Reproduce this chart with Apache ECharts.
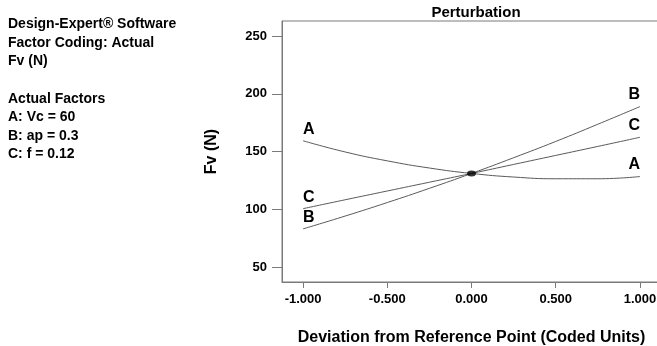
<!DOCTYPE html>
<html>
<head>
<meta charset="utf-8">
<script src="https://cdn.jsdelivr.net/npm/echarts@6/dist/echarts.min.js"></script>
<style>
  html, body { margin: 0; padding: 0; background: #fff; }
  #main { width: 657px; height: 346px; }
</style>
</head>
<body>
<div id="main"></div>
<script>
// deviation from reference point (coded units)
const devPts = [-1, -0.75, -0.5, -0.25, 0, 0.25, 0.5, 0.75, 1]
// Fv (N)
const fvA = [159.3, 149.6, 141.9, 135.7, 131.0, 127.9, 126.4, 126.4, 128.3]
const fvB = [83.0, 94.1, 105.8, 118.1, 131.0, 144.6, 158.7, 173.6, 188.9]
const fvC = [100.5, 108.2, 115.8, 123.4, 131.0, 138.8, 146.6, 154.4, 162.3]
const refPoint = [0, 131.0]

const xTicks = [-1, -0.5, 0, 0.5, 1]
const yTicks = [50, 100, 150, 200, 250]

const infoLines = [
  'Design-Expert® Software',
  'Factor Coding: Actual',
  'Fv (N)',
  '',
  'Actual Factors',
  'A: Vc = 60',
  'B: ap = 0.3',
  'C: f = 0.12'
]

const font = 'Arial, "Liberation Sans", sans-serif'
const lineCol = '#5a5a5a'
const axisCol = '#7a7a7a'

// build [x, y] points, name tag on both ends
let buildSeries = (name, vals) => {
  return vals.map((v, i) => {
    let item = { value: [devPts[i], v] }
    if (i === 0 || i === vals.length - 1) {
      item.label = {
        show: true,
        formatter: name,
        position: 'top',
        align: i === 0 ? 'left' : 'right',
        distance: 3,
        color: '#000',
        fontFamily: font,
        fontSize: 16,
        fontWeight: 'bold'
      }
    }
    return item
  })
}

let lineSeries = (name, vals) => ({
  name: name,
  type: 'line',
  smooth: true,
  symbol: 'circle',
  symbolSize: 1,
  showSymbol: true,
  itemStyle: { color: 'rgba(0,0,0,0)' },
  lineStyle: { color: lineCol, width: 1 },
  data: buildSeries(name, vals)
})

let chartInstance = echarts.init(document.getElementById('main'), null, { renderer: 'canvas' })

const option = {
  animation: false,
  backgroundColor: '#fff',
  title: {
    text: 'Perturbation',
    left: 471,
    top: 0,
    textAlign: 'center',
    textStyle: { fontFamily: font, fontSize: 15, fontWeight: 'bold', color: '#000' }
  },
  graphic: [{
    type: 'text',
    left: 8,
    top: 15,
    style: {
      text: infoLines.join('\n'),
      font: 'bold 14px ' + font,
      lineHeight: 18.6,
      fill: '#000'
    }
  }],
  grid: {
    left: 282,
    top: 21,
    width: 379,
    height: 261,
    outerBoundsMode: 'none',
    show: true,
    borderColor: axisCol,
    borderWidth: 1
  },
  xAxis: {
    type: 'value',
    min: -1.125,
    max: 1.125,
    name: 'Deviation from Reference Point (Coded Units)',
    nameLocation: 'middle',
    nameGap: 48,
    nameTextStyle: { fontFamily: font, fontSize: 16, fontWeight: 'bold', color: '#000' },
    splitLine: { show: false },
    axisLine: { show: true, onZero: false, lineStyle: { color: axisCol, width: 1 } },
    axisTick: { show: true, length: 6, customValues: xTicks, lineStyle: { color: axisCol } },
    axisLabel: {
      customValues: xTicks,
      margin: 11,
      fontFamily: font,
      fontSize: 13,
      fontWeight: 'bold',
      color: '#000',
      formatter: v => v.toFixed(3)
    }
  },
  yAxis: {
    type: 'value',
    min: 37,
    max: 263,
    name: 'Fv (N)',
    nameLocation: 'middle',
    nameGap: 62,
    nameTextStyle: { fontFamily: font, fontSize: 16, fontWeight: 'bold', color: '#000' },
    splitLine: { show: false },
    axisLine: { show: true, onZero: false, lineStyle: { color: axisCol, width: 1 } },
    axisTick: { show: true, length: 10, customValues: yTicks, lineStyle: { color: axisCol } },
    axisLabel: {
      customValues: yTicks,
      margin: 15,
      fontFamily: font,
      fontSize: 13,
      fontWeight: 'bold',
      color: '#000'
    }
  },
  series: [
    lineSeries('A', fvA),
    lineSeries('B', fvB),
    lineSeries('C', fvC),
    {
      name: 'ref',
      type: 'scatter',
      symbol: 'circle',
      symbolSize: [9, 6],
      itemStyle: { color: '#000' },
      data: [refPoint],
      z: 5
    }
  ]
}

chartInstance.setOption(option)
</script>
</body>
</html>
